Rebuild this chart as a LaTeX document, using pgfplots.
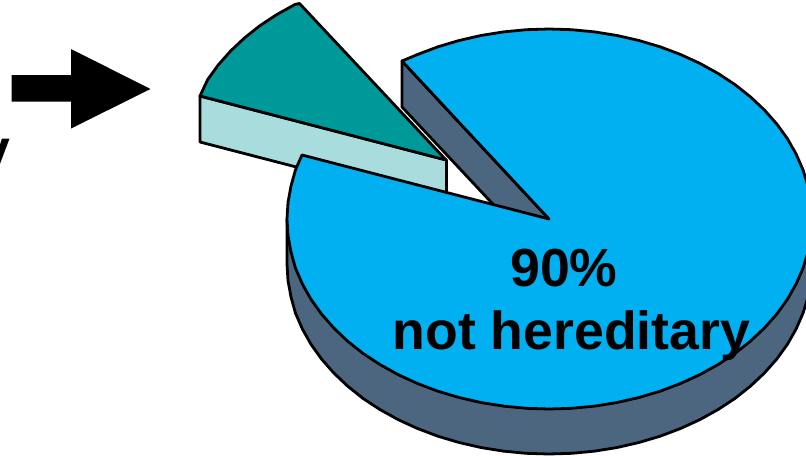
\documentclass[border=0pt]{standalone}
\usepackage{pgfplots}
\pgfplotsset{compat=1.18}
\usepackage{fontspec}
\setmainfont{Liberation Sans}
\definecolor{skyblue}{HTML}{00B0F0}
\definecolor{slate}{HTML}{4D6680}
\definecolor{teal}{HTML}{009999}
\definecolor{paleteal}{HTML}{A9DCDC}
\begin{document}
\begin{tikzpicture}
\path[use as bounding box, clip] (0,0) rectangle (604.5pt,341.25pt);
\begin{axis}[
  at={(0,0)}, anchor=south west,
  width=604.5pt, height=341.25pt, scale only axis,
  xmin=0, xmax=806, ymin=0, ymax=455, y dir=reverse,
  hide axis, clip=true,
  slice/.style={draw=black, line width=2.1pt, line join=round},
]
% Detached slice: side wall, then top face
\addplot[slice, fill=paleteal] coordinates {(200,96) (446.5,160) (446.5,206) (200,142)} --cycle;
\addplot[slice, fill=teal] coordinates {
  (446,160) (200,96) (207.6,79.7) (218.2,65) (230.6,51) (244.5,37.9)
  (260,25.6) (276.9,14.5) (295.1,4.4) (299.5,3.5)} --cycle;
% Main slice: cut wall
\addplot[slice, fill=slate] coordinates {(402,61) (549,219) (549,264) (402,107)} --cycle;
% Main slice: rim
\addplot[slice, fill=slate] coordinates {
  (287,219) (287,264) (288,280.6) (291,297) (295.5,313.2) (302.4,329) (311,344.3)
  (321.5,359) (333.8,373) (347.6,386.1) (363,398.4) (379.9,409.5) (398.1,419.6)
  (417.5,428.5) (437.9,436.2) (459.1,442.5) (480.9,447.5) (503.3,451.1) (526.1,453.3)
  (549,454) (571.9,453.3) (594.7,451.1) (617.1,447.5) (638.9,442.5) (660.1,436.2)
  (680.5,428.5) (699.9,419.6) (718.1,409.5) (735,398.4) (750.5,386.1) (764.4,373)
  (776.8,359) (787.4,344.3) (796.1,329) (803,313.2) (808,297) (811,280.6) (812,264)
  (812,219)} --cycle;
% Main slice: top face
\addplot[slice, fill=skyblue] coordinates {
  (549,219) (402,61) (417.5,54.5) (437.9,46.8) (459.1,40.5) (480.9,35.5) (503.3,31.9)
  (526.1,29.7) (549,29) (571.9,29.7) (594.7,31.9) (617.1,35.5) (638.9,40.5) (660.1,46.8)
  (680.5,54.5) (699.9,63.4) (718.1,73.5) (735,84.6) (750.5,96.9) (764.4,110) (776.8,124)
  (787.4,138.7) (796.1,154) (803,169.8) (808,186) (811,202.4) (812,219)
  (811,235.6) (808,252) (803,268.2) (796.1,284) (787.4,299.3) (776.8,314) (764.4,328)
  (750.5,341.1) (735,353.4) (718.1,364.5) (699.9,374.6) (680.5,383.5) (660.1,391.2)
  (638.9,397.5) (617.1,402.5) (594.7,406.1) (571.9,408.3) (549,409)
  (526.1,408.3) (503.3,406.1) (480.9,402.5) (459.1,397.5) (437.9,391.2) (417.5,383.5)
  (398.1,374.6) (379.9,364.5) (363,353.4) (347.5,341.1) (333.8,328) (321.5,314)
  (311,299.3) (302.4,284) (295.5,268.2) (291,252) (288,235.6) (287,219)
  (288,202.4) (291,186) (295.5,169.8) (302,155)} --cycle;
% Pointer arrow
\addplot[fill=black, draw=none] coordinates {
  (11.7,75) (71,75) (71,49) (150.5,89) (71,128.5) (71,101.7) (11.7,101.7)} --cycle;
% Labels
\node[anchor=base, font=\fontsize{40.2pt}{44pt}\selectfont\bfseries, inner sep=0pt]
  at (axis cs:564,286) {90\%};
\node[anchor=base, font=\fontsize{40.2pt}{44pt}\selectfont\bfseries, inner sep=0pt]
  at (axis cs:571.5,349) {not hereditary};
\node[anchor=base east, font=\fontsize{40.2pt}{44pt}\selectfont\bfseries, inner sep=0pt]
  at (axis cs:11,167.5) {hereditary};
\end{axis}
\end{tikzpicture}
\end{document}
